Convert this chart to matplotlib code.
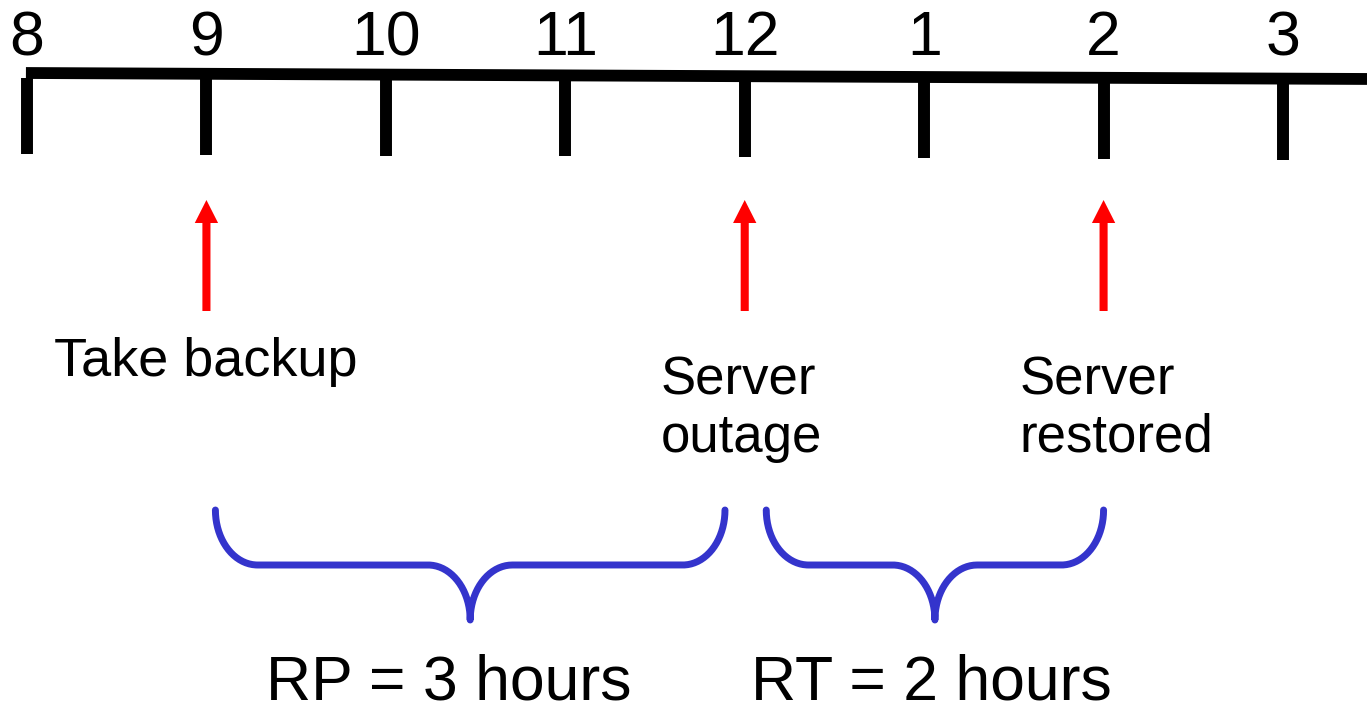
import numpy as np
import matplotlib.pyplot as plt

plt.rcParams['font.family'] = ['Liberation Sans', 'DejaVu Sans']

# timeline (hours on a 24h scale, labels on a 12h clock)
hours = [8, 9, 10, 11, 12, 13, 14, 15]
hour_labels = ['8', '9', '10', '11', '12', '1', '2', '3']

# events marked with red arrows
event_hours = [9, 12, 14]
event_labels = ['Take backup', 'Server\noutage', 'Server\nrestored']

# braces (start hour, end hour), caption and where the caption is centred
brace_spans = [(9.05, 11.89), (12.12, 14.0)]
brace_labels = ['RP = 3 hours', 'RT = 2 hours']
brace_label_hours = [10.35, 13.04]

px_per_hour = 179.43   # horizontal pixel spacing of one hour
x0_px = 27             # pixel of hour 8
tilt = 0.8             # the line sinks a bit to the right (px per hour)


def brace(ax, xa, xb, y_top=510, y_mid=565, y_tip=620, rx=0.235, color='#3434CC'):
    xc = (xa + xb) / 2
    t = np.linspace(0, np.pi / 2, 40)
    # left end curl
    x1 = xa + rx - rx * np.cos(t)
    y1 = y_top + (y_mid - y_top) * np.sin(t)
    # curve down to the tip
    x2 = xc - rx + rx * np.sin(t)
    y2 = y_tip - (y_tip - y_mid) * np.cos(t)
    xl = np.concatenate([x1, x2])
    yl = np.concatenate([y1, y2])
    xr = 2 * xc - xl[::-1]
    yr = yl[::-1]
    ax.plot(np.concatenate([xl, xr]), np.concatenate([yl, yr]), color=color, lw=5,
            solid_capstyle='round', solid_joinstyle='round')


fig = plt.figure(figsize=(13.67, 7.13), dpi=100)
ax = fig.add_axes([0, 0, 1, 1])
ax.set_xlim(8 - x0_px / px_per_hour, 8 + (1367 - x0_px) / px_per_hour)
ax.set_ylim(713, 0)
ax.axis('off')

def base_y(h):
    return 73 + tilt * (h - 8)

# main line
xl, xr = ax.get_xlim()
ax.plot([7.994, xr], [base_y(7.994), base_y(xr)], color='black', lw=8.5, solid_capstyle='butt')

# ticks and hour labels
for h, lab in zip(hours, hour_labels):
    yb = base_y(h) + 5
    ax.plot([h, h], [yb, yb + 76], color='black', lw=8.6, solid_capstyle='butt')
    ax.text(h, 55, lab, fontsize=45, ha='center', va='baseline')

# red arrows with their captions
for h in event_hours:
    ax.arrow(h, 311, 0, -111, width=0.045, head_width=0.13, head_length=23,
             length_includes_head=True, color='red', lw=0)

ax.text(event_hours[0] - 0.85, 376, event_labels[0], fontsize=39, ha='left', va='baseline')
for h, lab in zip(event_hours[1:], event_labels[1:]):
    ax.text(h - 0.47, 452, lab, fontsize=38, ha='left', va='baseline', linespacing=1.2)

# braces and captions
for (a, b), lab, lh in zip(brace_spans, brace_labels, brace_label_hours):
    brace(ax, a, b)
    ax.text(lh, 699, lab, fontsize=45, ha='center', va='baseline')

fig.savefig('out.png', dpi=100)
